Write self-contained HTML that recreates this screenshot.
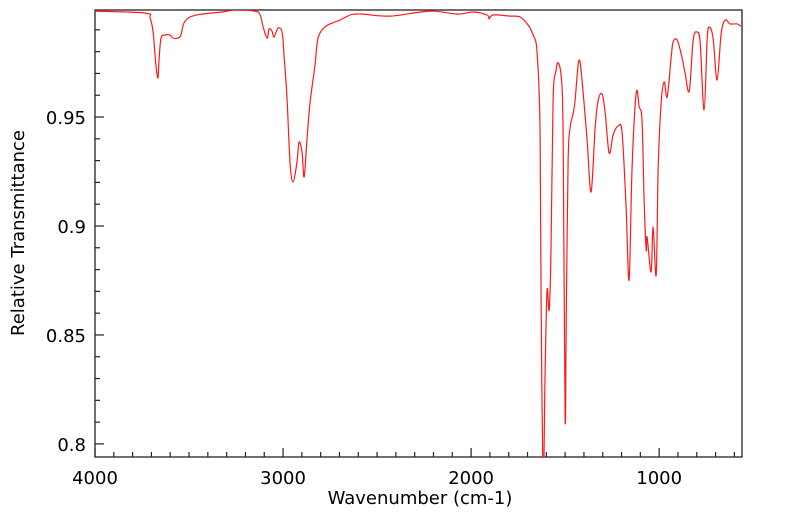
<!DOCTYPE html>
<html><head><meta charset="utf-8"><style>
body{margin:0;background:#fff;}
svg{display:block;font-family:"DejaVu Sans","Liberation Sans",sans-serif;}
</style></head><body>
<svg id="chart" width="799" height="516" xmlns="http://www.w3.org/2000/svg">
<defs><clipPath id="clip"><rect x="95" y="10" width="647" height="447"/></clipPath></defs>
<rect x="95" y="10" width="647" height="447" fill="#fff" stroke="#222" stroke-width="1.3"/>
<g id="ticks"></g>
<g id="labels"></g>
<path id="spec" fill="none" stroke="#ff1a1a" stroke-width="1.2" clip-path="url(#clip)"/>
<text x="420" y="504" font-size="18" text-anchor="middle">Wavenumber (cm-1)</text>
<text transform="translate(24,233) rotate(-90)" font-size="18" text-anchor="middle">Relative Transmittance</text>
</svg>
<script>
const wavenumbers=[4000,3734,3707,3691,3676,3665,3660,3649,3628,3601,3585,3559,3543,3527,3495,3431,3324,3255,3149,3122,3106,3085,3074,3059,3048,3027,3005,2995,2979,2963,2947,2926,2915,2899,2888,2872,2856,2830,2814,2777,2723,2697,2644,2617,2575,2431,2218,2074,1989,1915,1904,1883,1793,1739,1697,1670,1649,1633,1628,1617,1606,1596,1585,1575,1564,1548,1537,1521,1511,1500,1494,1484,1473,1457,1447,1431,1420,1404,1383,1362,1340,1324,1303,1287,1266,1245,1218,1197,1176,1160,1144,1122,1106,1091,1080,1069,1064,1043,1032,1016,1005,989,973,957,936,926,904,878,862,840,819,798,782,761,745,734,713,692,670,649,623,585,559];
const transmittance=[0.9986,0.9977,0.9954,0.9890,0.9738,0.9679,0.9752,0.9862,0.9876,0.9876,0.9862,0.9862,0.9876,0.9931,0.9959,0.9972,0.9982,0.9991,0.9986,0.9968,0.9913,0.9862,0.9904,0.9894,0.9867,0.9908,0.9890,0.9784,0.9587,0.9294,0.9202,0.9294,0.9385,0.9339,0.9225,0.9404,0.9569,0.9738,0.9862,0.9913,0.9936,0.9945,0.9968,0.9972,0.9972,0.9963,0.9986,0.9972,0.9982,0.9968,0.9950,0.9968,0.9963,0.9959,0.9922,0.9876,0.9794,0.9427,0.8661,0.7800,0.8353,0.8706,0.8615,0.8890,0.9578,0.9716,0.9748,0.9683,0.9427,0.8119,0.8600,0.9300,0.9454,0.9518,0.9578,0.9738,0.9748,0.9610,0.9394,0.9156,0.9454,0.9578,0.9605,0.9518,0.9335,0.9417,0.9459,0.9427,0.9087,0.8752,0.9271,0.9610,0.9546,0.9486,0.9119,0.8890,0.8950,0.8789,0.8995,0.8775,0.9271,0.9569,0.9661,0.9592,0.9775,0.9844,0.9853,0.9771,0.9701,0.9619,0.9853,0.9890,0.9839,0.9532,0.9853,0.9913,0.9862,0.9670,0.9885,0.9945,0.9927,0.9927,0.9913];
const xTickValues=[4000,3000,2000,1000];
const yTickValues=[0.8,0.85,0.9,0.95];
const yTickLabels=["0.8","0.85","0.9","0.95"];
const X0=95,X1=742,Y0=10,Y1=457;
const WN_LEFT=4000,WN_RIGHT=559.5,T_BOTTOM=0.7940,T_TOP=0.9991;
const xs=w=>X0+(WN_LEFT-w)/(WN_LEFT-WN_RIGHT)*(X1-X0);
const ys=t=>Y1-(t-T_BOTTOM)/(T_TOP-T_BOTTOM)*(Y1-Y0);
const NS="http://www.w3.org/2000/svg";
const P=wavenumbers.map((w,i)=>[xs(w),ys(transmittance[i])]);
let d="M"+P[0][0].toFixed(1)+","+P[0][1].toFixed(1);
for(let i=0;i<P.length-1;i++){
  const p0=P[Math.max(0,i-1)],p1=P[i],p2=P[i+1],p3=P[Math.min(P.length-1,i+2)];
  const c1x=p1[0]+(p2[0]-p0[0])/6,c1y=p1[1]+(p2[1]-p0[1])/6;
  const c2x=p2[0]-(p3[0]-p1[0])/6,c2y=p2[1]-(p3[1]-p1[1])/6;
  d+="C"+c1x.toFixed(1)+","+c1y.toFixed(1)+" "+c2x.toFixed(1)+","+c2y.toFixed(1)+" "+p2[0].toFixed(1)+","+p2[1].toFixed(1);
}
document.getElementById("spec").setAttribute("d",d);
const tg=document.getElementById("ticks"),lg=document.getElementById("labels");
function line(x1,y1,x2,y2,name){const l=document.createElementNS(NS,"line");
l.setAttribute("x1",x1);l.setAttribute("y1",y1);l.setAttribute("x2",x2);l.setAttribute("y2",y2);
l.setAttribute("stroke","#222");l.setAttribute("stroke-width","1.2");


tg.appendChild(l);}
for(let w=4000;w>=600;w-=100){const x=xs(w);const major=w%1000===0;line(x,Y1,x,Y1-(major?9:5),major?"x-major-tick":"x-minor-tick");}
for(let k=80;k<=99;k++){const t=k/100;const y=ys(t);const major=k%5===0;line(X0,y,X0+(major?9:5),y,major?"y-major-tick":"y-minor-tick");}
xTickValues.forEach(v=>{const t=document.createElementNS(NS,"text");t.setAttribute("x",xs(v));t.setAttribute("y",484);
t.setAttribute("font-size","18");t.setAttribute("text-anchor","middle");t.textContent=v;


lg.appendChild(t);});
yTickValues.forEach((v,i)=>{const t=document.createElementNS(NS,"text");t.setAttribute("x",86);t.setAttribute("y",ys(v)+7);
t.setAttribute("font-size","18");t.setAttribute("text-anchor","end");t.textContent=yTickLabels[i];


lg.appendChild(t);});
</script>
</body></html>
